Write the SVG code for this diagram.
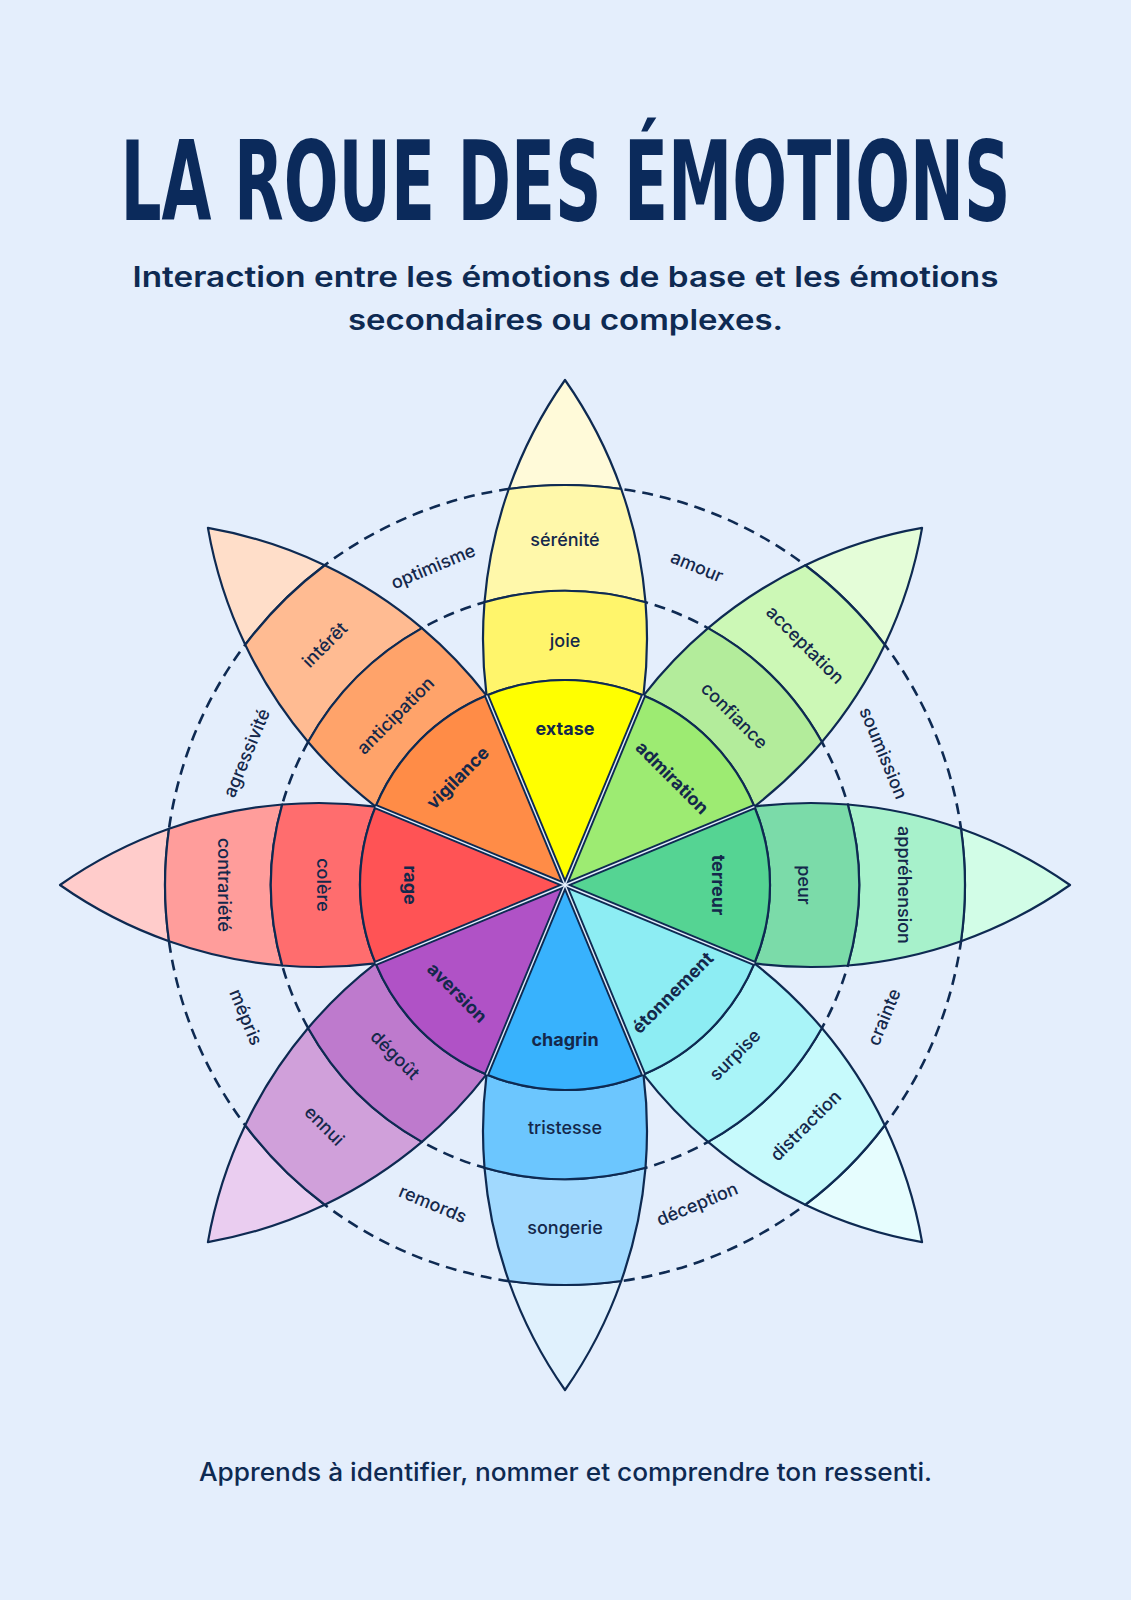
<svg xmlns="http://www.w3.org/2000/svg" width="1131" height="1600" viewBox="0 0 1131 1600">
<defs>
<style>
.bg{fill:#E4EEFC}
.cell{stroke:#0E2A52;stroke-width:2.2;stroke-linejoin:round}
.dash{fill:none;stroke:#0E2A52;stroke-width:2.6;stroke-dasharray:11 7}
.sepd{stroke:#0E2A52;stroke-width:5.2}
.sepl{stroke:#E4EEFC;stroke-width:1.4}
.lbl{font-family:Inter,"Noto Sans",sans-serif;font-size:18px;font-weight:500;fill:#14284B;text-anchor:middle;dominant-baseline:central}
.b{font-weight:700}
.title{font-family:"DejaVu Sans Condensed","Liberation Sans Narrow","Liberation Sans",sans-serif;font-weight:700;font-size:72px;fill:#0B2A5B;text-anchor:middle}
.sub{font-family:Inter,"Noto Sans",sans-serif;font-weight:600;font-size:28px;fill:#0E2A52;text-anchor:middle}
.foot{font-family:Inter,"Noto Sans",sans-serif;font-weight:500;font-size:25px;fill:#0E2A52;text-anchor:middle}
</style>
</defs>
<rect class="bg" x="0" y="0" width="1131" height="1600"/>
<g id="header">
<text class="title" x="565.5" y="143.8" transform="scale(1 1.53)" textLength="890" lengthAdjust="spacingAndGlyphs">LA ROUE DES ÉMOTIONS</text>
<text class="sub" x="565.5" y="287" textLength="866" lengthAdjust="spacingAndGlyphs">Interaction entre les émotions de base et les émotions</text>
<text class="sub" x="565.5" y="330" textLength="435" lengthAdjust="spacingAndGlyphs">secondaires ou complexes.</text>
</g>
<g id="rings">
<circle class="dash" cx="565" cy="885" r="400"/>
<circle class="dash" cx="565" cy="885" r="294"/>
</g>
<g id="petal-joie" transform="translate(565 885) rotate(0)">
<path class="cell" fill="#FFFAD9" d="M-56.2 -396 A400 400 0 0 1 56.2 -396 A451 451 0 0 0 0 -505 A451 451 0 0 0 -56.2 -396 Z"/>
<path class="cell" fill="#FFF8AA" d="M-80.5 -282.8 A294 294 0 0 1 80.5 -282.8 A451 451 0 0 0 56.2 -396 A400 400 0 0 0 -56.2 -396 A451 451 0 0 0 -80.5 -282.8 Z"/>
<path class="cell" fill="#FFF56B" d="M-78.45 -189.4 A205 205 0 0 1 78.45 -189.4 A451 451 0 0 0 80.5 -282.8 A294 294 0 0 0 -80.5 -282.8 A451 451 0 0 0 -78.45 -189.4 Z"/>
<path class="cell" fill="#FFFF00" d="M0 0 L-78.45 -189.4 A205 205 0 0 1 78.45 -189.4 Z"/>
<text class="lbl b" x="0" y="-157">extase</text>
<text class="lbl" x="0" y="-245">joie</text>
<text class="lbl" x="0" y="-346">sérénité</text>
</g>
<g id="petal-confiance" transform="translate(565 885) rotate(45)">
<path class="cell" fill="#E4FDD8" d="M-56.2 -396 A400 400 0 0 1 56.2 -396 A451 451 0 0 0 0 -505 A451 451 0 0 0 -56.2 -396 Z"/>
<path class="cell" fill="#CCF8B6" d="M-80.5 -282.8 A294 294 0 0 1 80.5 -282.8 A451 451 0 0 0 56.2 -396 A400 400 0 0 0 -56.2 -396 A451 451 0 0 0 -80.5 -282.8 Z"/>
<path class="cell" fill="#B3EC9B" d="M-78.45 -189.4 A205 205 0 0 1 78.45 -189.4 A451 451 0 0 0 80.5 -282.8 A294 294 0 0 0 -80.5 -282.8 A451 451 0 0 0 -78.45 -189.4 Z"/>
<path class="cell" fill="#9DEB72" d="M0 0 L-78.45 -189.4 A205 205 0 0 1 78.45 -189.4 Z"/>
<text class="lbl b" x="0" y="-152">admiration</text>
<text class="lbl" x="0" y="-240">confiance</text>
<text class="lbl" x="0" y="-340">acceptation</text>
</g>
<g id="petal-peur" transform="translate(565 885) rotate(90)">
<path class="cell" fill="#D2FDE7" d="M-56.2 -396 A400 400 0 0 1 56.2 -396 A451 451 0 0 0 0 -505 A451 451 0 0 0 -56.2 -396 Z"/>
<path class="cell" fill="#A7F1CB" d="M-80.5 -282.8 A294 294 0 0 1 80.5 -282.8 A451 451 0 0 0 56.2 -396 A400 400 0 0 0 -56.2 -396 A451 451 0 0 0 -80.5 -282.8 Z"/>
<path class="cell" fill="#7BDBA9" d="M-78.45 -189.4 A205 205 0 0 1 78.45 -189.4 A451 451 0 0 0 80.5 -282.8 A294 294 0 0 0 -80.5 -282.8 A451 451 0 0 0 -78.45 -189.4 Z"/>
<path class="cell" fill="#55D493" d="M0 0 L-78.45 -189.4 A205 205 0 0 1 78.45 -189.4 Z"/>
<text class="lbl b" x="0" y="-153">terreur</text>
<text class="lbl" x="0" y="-239">peur</text>
<text class="lbl" x="0" y="-339">appréhension</text>
</g>
<g id="petal-surprise" transform="translate(565 885) rotate(135)">
<path class="cell" fill="#E6FDFE" d="M-56.2 -396 A400 400 0 0 1 56.2 -396 A451 451 0 0 0 0 -505 A451 451 0 0 0 -56.2 -396 Z"/>
<path class="cell" fill="#C7FAFC" d="M-80.5 -282.8 A294 294 0 0 1 80.5 -282.8 A451 451 0 0 0 56.2 -396 A400 400 0 0 0 -56.2 -396 A451 451 0 0 0 -80.5 -282.8 Z"/>
<path class="cell" fill="#A9F4F8" d="M-78.45 -189.4 A205 205 0 0 1 78.45 -189.4 A451 451 0 0 0 80.5 -282.8 A294 294 0 0 0 -80.5 -282.8 A451 451 0 0 0 -78.45 -189.4 Z"/>
<path class="cell" fill="#8DEDF3" d="M0 0 L-78.45 -189.4 A205 205 0 0 1 78.45 -189.4 Z"/>
<text class="lbl b" x="0" y="-152" transform="rotate(180 0 -152)">étonnement</text>
<text class="lbl" x="0" y="-240" transform="rotate(180 0 -240)">surpise</text>
<text class="lbl" x="0" y="-340" transform="rotate(180 0 -340)">distraction</text>
</g>
<g id="petal-tristesse" transform="translate(565 885) rotate(180)">
<path class="cell" fill="#E0F1FD" d="M-56.2 -396 A400 400 0 0 1 56.2 -396 A451 451 0 0 0 0 -505 A451 451 0 0 0 -56.2 -396 Z"/>
<path class="cell" fill="#A1D9FE" d="M-80.5 -282.8 A294 294 0 0 1 80.5 -282.8 A451 451 0 0 0 56.2 -396 A400 400 0 0 0 -56.2 -396 A451 451 0 0 0 -80.5 -282.8 Z"/>
<path class="cell" fill="#6CC6FE" d="M-78.45 -189.4 A205 205 0 0 1 78.45 -189.4 A451 451 0 0 0 80.5 -282.8 A294 294 0 0 0 -80.5 -282.8 A451 451 0 0 0 -78.45 -189.4 Z"/>
<path class="cell" fill="#38B2FD" d="M0 0 L-78.45 -189.4 A205 205 0 0 1 78.45 -189.4 Z"/>
<text class="lbl b" x="0" y="-154" transform="rotate(180 0 -154)">chagrin</text>
<text class="lbl" x="0" y="-242" transform="rotate(180 0 -242)">tristesse</text>
<text class="lbl" x="0" y="-342" transform="rotate(180 0 -342)">songerie</text>
</g>
<g id="petal-degout" transform="translate(565 885) rotate(225)">
<path class="cell" fill="#EACDF0" d="M-56.2 -396 A400 400 0 0 1 56.2 -396 A451 451 0 0 0 0 -505 A451 451 0 0 0 -56.2 -396 Z"/>
<path class="cell" fill="#D0A0DA" d="M-80.5 -282.8 A294 294 0 0 1 80.5 -282.8 A451 451 0 0 0 56.2 -396 A400 400 0 0 0 -56.2 -396 A451 451 0 0 0 -80.5 -282.8 Z"/>
<path class="cell" fill="#BE7ACD" d="M-78.45 -189.4 A205 205 0 0 1 78.45 -189.4 A451 451 0 0 0 80.5 -282.8 A294 294 0 0 0 -80.5 -282.8 A451 451 0 0 0 -78.45 -189.4 Z"/>
<path class="cell" fill="#B052C6" d="M0 0 L-78.45 -189.4 A205 205 0 0 1 78.45 -189.4 Z"/>
<text class="lbl b" x="0" y="-152" transform="rotate(180 0 -152)">aversion</text>
<text class="lbl" x="0" y="-240" transform="rotate(180 0 -240)">dégoût</text>
<text class="lbl" x="0" y="-340" transform="rotate(180 0 -340)">ennui</text>
</g>
<g id="petal-colere" transform="translate(565 885) rotate(270)">
<path class="cell" fill="#FFCCCB" d="M-56.2 -396 A400 400 0 0 1 56.2 -396 A451 451 0 0 0 0 -505 A451 451 0 0 0 -56.2 -396 Z"/>
<path class="cell" fill="#FF9D9B" d="M-80.5 -282.8 A294 294 0 0 1 80.5 -282.8 A451 451 0 0 0 56.2 -396 A400 400 0 0 0 -56.2 -396 A451 451 0 0 0 -80.5 -282.8 Z"/>
<path class="cell" fill="#FF6D6E" d="M-78.45 -189.4 A205 205 0 0 1 78.45 -189.4 A451 451 0 0 0 80.5 -282.8 A294 294 0 0 0 -80.5 -282.8 A451 451 0 0 0 -78.45 -189.4 Z"/>
<path class="cell" fill="#FF5355" d="M0 0 L-78.45 -189.4 A205 205 0 0 1 78.45 -189.4 Z"/>
<text class="lbl b" x="0" y="-155" transform="rotate(180 0 -155)">rage</text>
<text class="lbl" x="0" y="-242" transform="rotate(180 0 -242)">colère</text>
<text class="lbl" x="0" y="-341" transform="rotate(180 0 -341)">contrariété</text>
</g>
<g id="petal-anticipation" transform="translate(565 885) rotate(315)">
<path class="cell" fill="#FFDEC9" d="M-56.2 -396 A400 400 0 0 1 56.2 -396 A451 451 0 0 0 0 -505 A451 451 0 0 0 -56.2 -396 Z"/>
<path class="cell" fill="#FFBB92" d="M-80.5 -282.8 A294 294 0 0 1 80.5 -282.8 A451 451 0 0 0 56.2 -396 A400 400 0 0 0 -56.2 -396 A451 451 0 0 0 -80.5 -282.8 Z"/>
<path class="cell" fill="#FFA36A" d="M-78.45 -189.4 A205 205 0 0 1 78.45 -189.4 A451 451 0 0 0 80.5 -282.8 A294 294 0 0 0 -80.5 -282.8 A451 451 0 0 0 -78.45 -189.4 Z"/>
<path class="cell" fill="#FF8C47" d="M0 0 L-78.45 -189.4 A205 205 0 0 1 78.45 -189.4 Z"/>
<text class="lbl b" x="0" y="-152">vigilance</text>
<text class="lbl" x="0" y="-240">anticipation</text>
<text class="lbl" x="0" y="-340">intérêt</text>
</g>
<g id="connectors" transform="translate(565 885)">
<g class="sepd">
<line x1="0" y1="0" x2="78.45" y2="-189.4"/>
<line x1="0" y1="0" x2="78.45" y2="-189.4" transform="rotate(45)"/>
<line x1="0" y1="0" x2="78.45" y2="-189.4" transform="rotate(90)"/>
<line x1="0" y1="0" x2="78.45" y2="-189.4" transform="rotate(135)"/>
<line x1="0" y1="0" x2="78.45" y2="-189.4" transform="rotate(180)"/>
<line x1="0" y1="0" x2="78.45" y2="-189.4" transform="rotate(225)"/>
<line x1="0" y1="0" x2="78.45" y2="-189.4" transform="rotate(270)"/>
<line x1="0" y1="0" x2="78.45" y2="-189.4" transform="rotate(315)"/>
</g>
<g class="sepl">
<line x1="0" y1="0" x2="78.45" y2="-189.4"/>
<line x1="0" y1="0" x2="78.45" y2="-189.4" transform="rotate(45)"/>
<line x1="0" y1="0" x2="78.45" y2="-189.4" transform="rotate(90)"/>
<line x1="0" y1="0" x2="78.45" y2="-189.4" transform="rotate(135)"/>
<line x1="0" y1="0" x2="78.45" y2="-189.4" transform="rotate(180)"/>
<line x1="0" y1="0" x2="78.45" y2="-189.4" transform="rotate(225)"/>
<line x1="0" y1="0" x2="78.45" y2="-189.4" transform="rotate(270)"/>
<line x1="0" y1="0" x2="78.45" y2="-189.4" transform="rotate(315)"/>
</g>
</g>
<g id="ring-labels">
<text class="lbl" x="565" y="540" transform="rotate(22.5 565 885)">amour</text>
<text class="lbl" x="565" y="540" transform="rotate(67.5 565 885)">soumission</text>
<text class="lbl" x="565" y="540" transform="rotate(112.5 565 885) rotate(180 565 540)">crainte</text>
<text class="lbl" x="565" y="540" transform="rotate(157.5 565 885) rotate(180 565 540)">déception</text>
<text class="lbl" x="565" y="540" transform="rotate(202.5 565 885) rotate(180 565 540)">remords</text>
<text class="lbl" x="565" y="540" transform="rotate(247.5 565 885) rotate(180 565 540)">mépris</text>
<text class="lbl" x="565" y="540" transform="rotate(292.5 565 885)">agressivité</text>
<text class="lbl" x="565" y="540" transform="rotate(337.5 565 885)">optimisme</text>
</g>
<g id="footer">
<text class="foot" x="565.5" y="1481" textLength="733" lengthAdjust="spacingAndGlyphs">Apprends à identifier, nommer et comprendre ton ressenti.</text>
</g>
</svg>
